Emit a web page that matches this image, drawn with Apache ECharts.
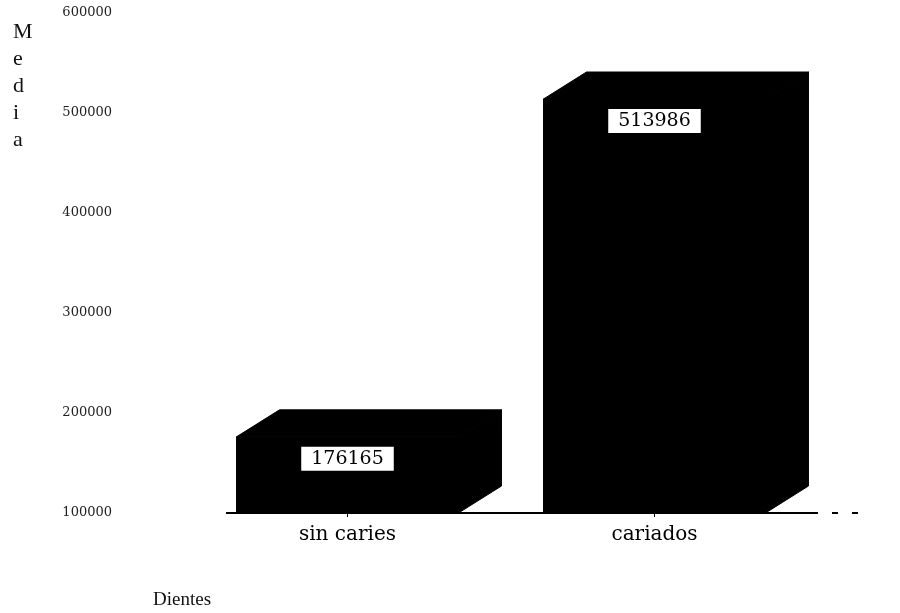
<!DOCTYPE html>
<html>
<head>
<meta charset="utf-8">
<script src="https://cdn.jsdelivr.net/npm/echarts@6/dist/echarts.min.js"></script>
<style>
  html, body { margin: 0; padding: 0; background: #fff; }
  #chart { width: 900px; height: 613px; }
</style>
</head>
<body>
<div id="chart"></div>
<script>
// Mean value per tooth group
const categories = ['sin caries', 'cariados'];
const means = [176165, 513986];
const yTicks = [100000, 200000, 300000, 400000, 500000, 600000];

const yMin = yTicks[0];
const yMax = yTicks[yTicks.length - 1];
const yStep = yTicks[1] - yTicks[0];

const chart = echarts.init(document.getElementById('chart'), null, { renderer: 'canvas' });

// Block-style bar: front face, slanted top and right side, with the value in a white box
function renderBlock(params, api) {
  const idx = api.value(0);
  const v = api.value(1);
  const top = api.coord([idx, v]);
  const base = api.coord([idx, yMin]);
  const band = api.size([1, 0])[0];
  const w = band * 0.723;
  const dx = 43, dy = 27;
  const l = top[0] - w / 2, r = top[0] + w / 2;
  const yt = top[1], yb = base[1];
  const fill = { fill: '#000', stroke: '#000', lineWidth: 1 };
  return {
    type: 'group',
    children: [
      { type: 'polygon', shape: { points: [[l, yt], [r, yt], [r, yb], [l, yb]] }, style: fill },
      { type: 'polygon', shape: { points: [[l, yt], [l + dx, yt - dy], [r + dx, yt - dy], [r, yt]] }, style: fill },
      { type: 'polygon', shape: { points: [[r, yt], [r + dx, yt - dy], [r + dx, yb - dy], [r, yb]] }, style: fill },
      {
        type: 'text',
        x: top[0],
        y: yt + 22,
        style: {
          text: String(v),
          fill: '#000',
          font: '19px "DejaVu Serif"',
          align: 'center',
          verticalAlign: 'middle',
          backgroundColor: '#fff',
          padding: [3, 10, 2, 10]
        }
      }
    ]
  };
}

chart.setOption({
  animation: false,
  backgroundColor: '#fff',
  title: [
    {
      text: 'M\ne\nd\ni\na',
      left: 8,
      top: 14,
      textStyle: { fontFamily: 'Liberation Serif', fontSize: 22, fontWeight: 'normal', color: '#111', lineHeight: 27, align: 'center' }
    },
    {
      text: 'Dientes',
      left: 148,
      top: 586,
      textStyle: { fontFamily: 'Liberation Serif', fontSize: 19, fontWeight: 'normal', color: '#111' }
    }
  ],
  grid: { left: 194, right: 92, top: 13, bottom: 100 },
  xAxis: {
    type: 'category',
    data: categories,
    axisLine: { show: false },
    axisTick: { show: true, alignWithLabel: true, length: 4, lineStyle: { color: '#000' } },
    axisLabel: { fontFamily: 'DejaVu Serif', fontSize: 20, color: '#000', margin: 12 },
    splitLine: { show: false }
  },
  yAxis: {
    type: 'value',
    min: yMin,
    max: yMax,
    interval: yStep,
    axisLine: { show: false },
    axisTick: { show: false },
    splitLine: { show: false },
    axisLabel: {
      fontFamily: 'DejaVu Serif', fontSize: 13, color: '#222', margin: 82,
      formatter: (val) => String(val)
    }
  },
  series: [{
    type: 'custom',
    renderItem: renderBlock,
    data: categories.map((c, i) => [i, means[i]]),
    z: 3
  }]
});

// Floor line under the blocks, fading into a dotted run on the right
const floorY = chart.convertToPixel({ yAxisIndex: 0 }, yMin);
chart.setOption({
  graphic: [
    {
      type: 'line',
      z: -10,
      shape: { x1: 226, y1: floorY, x2: 812, y2: floorY },
      style: { stroke: '#000', lineWidth: 2 }
    },
    {
      type: 'line',
      z: -10,
      shape: { x1: 812, y1: floorY, x2: 870, y2: floorY },
      style: { stroke: '#000', lineWidth: 2, lineDash: [6, 14] }
    }
  ]
});
</script>
</body>
</html>
